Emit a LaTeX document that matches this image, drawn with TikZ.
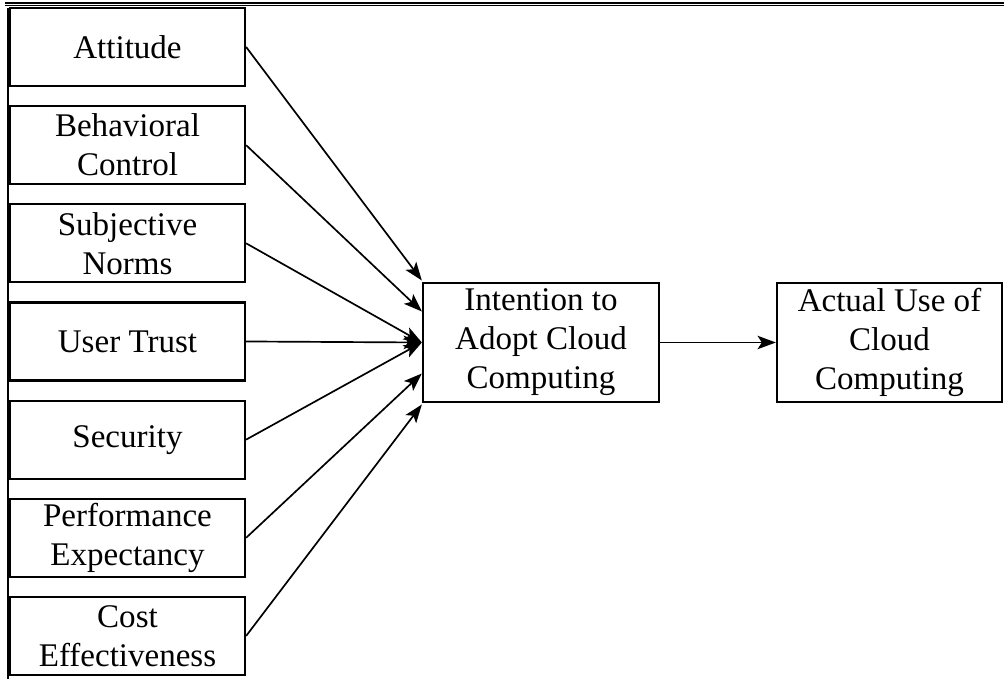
\documentclass[tikz,border=0pt]{standalone}
\usepackage{fontspec}
\setmainfont{Liberation Serif}
\usetikzlibrary{arrows.meta}
\begin{document}
\begin{tikzpicture}[>={Stealth[length=13pt,width=9.5pt,inset=3pt]},
	box/.style={draw, line width=1.6pt, align=center, inner sep=0pt,
		font=\fontsize{23.5}{27.7}\selectfont, minimum height=1.95cm, minimum width=5.875cm},
	big/.style={box, minimum height=2.975cm},
	arr/.style={->, line width=1.2pt}]
	\useasboundingbox (0,0) rectangle (25.1,16.975);
	% frame lines
	\draw[line width=2.1pt] (0.125,16.9) -- (25.1,16.9);
	\draw[line width=0.7pt] (0.125,16.825) -- (25.1,16.825);
	\draw[line width=1pt] (0.2,16.775) -- (0.2,0);
	% factors
	\node[box] (att) at (3.1875,15.8) {Attitude};
	\node[box] (beh) at (3.1875,13.346) {Behavioral\\Control};
	\node[box] (sub) at (3.1875,10.892) {Subjective\\Norms};
	\node[box] (tru) at (3.1875,8.438) {User Trust};
	\node[box] (sec) at (3.1875,5.984) {Security};
	\node[box] (per) at (3.1875,3.530) {Performance\\Expectancy};
	\node[box] (cos) at (3.1875,1.076) {Cost\\Effectiveness};
	% intention and use
	\node[big, minimum width=5.9cm] (int) at (13.525,8.4125) {Intention to\\Adopt Cloud\\Computing};
	\node[big, minimum width=5.625cm] (use) at (22.2375,8.4125) {Actual Use of\\Cloud\\Computing};
	\draw[arr] (att.east) -- ([yshift=1.55cm]int.west);
	\draw[arr] (beh.east) -- ([yshift=0.775cm]int.west);
	\draw[arr] (sub.east) -- (int.west);
	\draw[arr] (tru.east) -- (int.west);
	\draw[arr] (sec.east) -- (int.west);
	\draw[arr] (per.east) -- ([yshift=-0.775cm]int.west);
	\draw[arr] (cos.east) -- ([yshift=-1.55cm]int.west);
	\draw[arr] (int) -- (use);
\end{tikzpicture}
\end{document}
